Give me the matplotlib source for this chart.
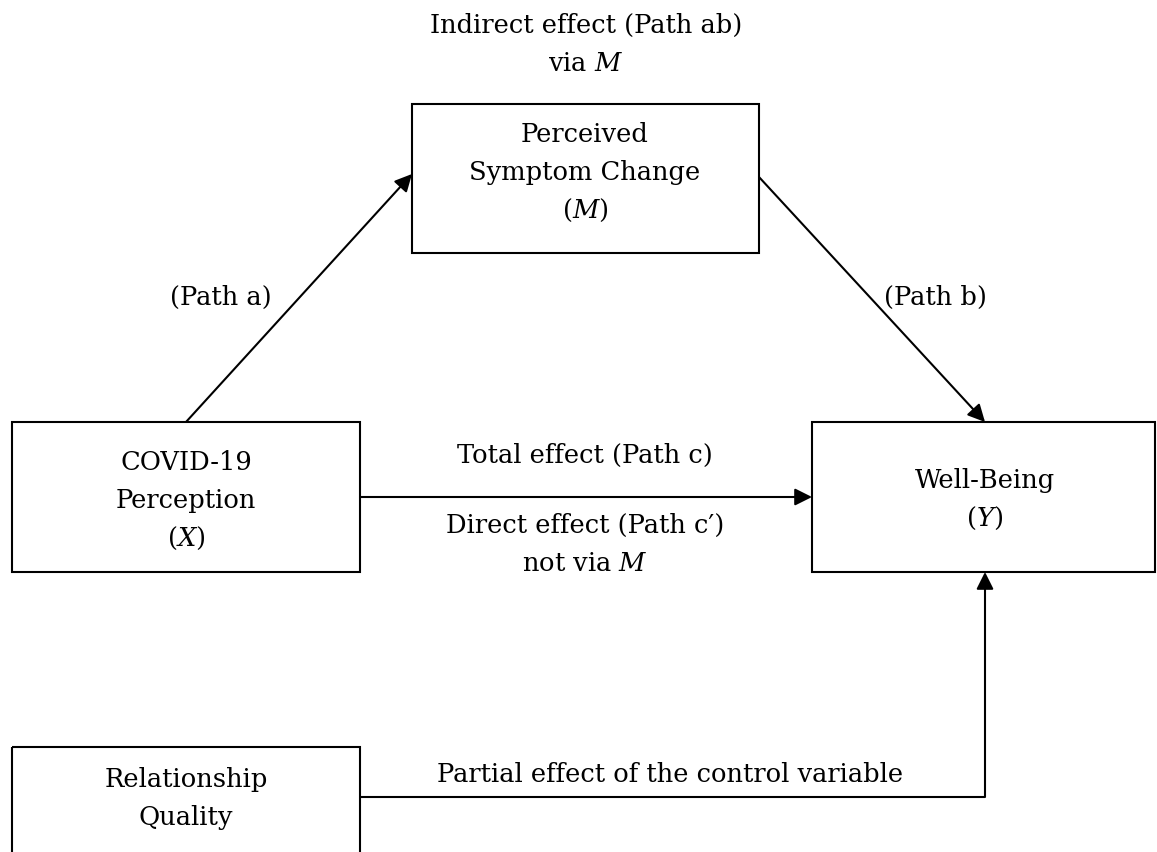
import matplotlib.pyplot as plt
from matplotlib.patches import Rectangle

plt.rcParams['font.family'] = 'DejaVu Serif'
plt.rcParams['mathtext.fontset'] = 'custom'
plt.rcParams['mathtext.rm'] = 'DejaVu Serif'
plt.rcParams['mathtext.it'] = 'DejaVu Serif:italic'

# node labels
node_names = ['M', 'X', 'Y', 'C']
node_labels = [['Perceived', 'Symptom Change', '($M$)'],
               ['COVID-19', 'Perception', '($X$)'],
               ['Well-Being', '($Y$)'],
               ['Relationship', 'Quality']]

# path labels
path_labels = [['Indirect effect (Path ab)', 'via $M$'],
               ['(Path a)'], ['(Path b)'],
               ['Total effect (Path c)'],
               ['Direct effect (Path c\u2032)', 'not via $M$'],
               ['Partial effect of the control variable']]

# box geometry in pixels: left, top, right, bottom
boxes = {
    'M': (412, 105, 759, 254),
    'X': (12, 423, 360, 573),
    'Y': (812, 423, 1155, 573),
    'C': (12, 748, 360, 900),
}
# text anchor: center x, first baseline y
node_text = {'M': (585, 142), 'X': (186, 470), 'Y': (985, 488), 'C': (186, 787)}
path_text = [(586, 33), (221, 305), (935, 305), (585, 463), (585, 533), (670, 782)]

fig = plt.figure(figsize=(11.57, 8.53), dpi=100)
ax = fig.add_axes([0, 0, 1, 1])
ax.set_xlim(0, 1157)
ax.set_ylim(853, 0)
ax.axis('off')

lw = 1.5
fs = 18.5
step = 38

def lines(x, y0, rows):
    for i, s in enumerate(rows):
        ax.text(x, y0 + i * step, s, ha='center', va='baseline', fontsize=fs)

for name, lab in zip(node_names, node_labels):
    l, t, r, b = boxes[name]
    ax.add_patch(Rectangle((l, t), r - l, b - t, fill=False, lw=lw, ec='black'))
    lines(*node_text[name], lab)

for (x, y), lab in zip(path_text, path_labels):
    lines(x, y, lab)

arrow = dict(arrowstyle='-|>', mutation_scale=26, lw=lw, color='black',
             shrinkA=0, shrinkB=0)

def arr(p0, p1):
    ax.annotate('', xy=p1, xytext=p0, arrowprops=arrow)

# path a: X -> M
arr((186, 423), (412, 175))
# path b: M -> Y
arr((759, 178), (985, 423))
# path c: X -> Y
arr((360, 498), (812, 498))
# control: C -> Y
ax.plot([360, 985], [798, 798], color='black', lw=lw, solid_capstyle='butt')
arr((985, 798), (985, 573))

fig.savefig('out.png', dpi=100)
